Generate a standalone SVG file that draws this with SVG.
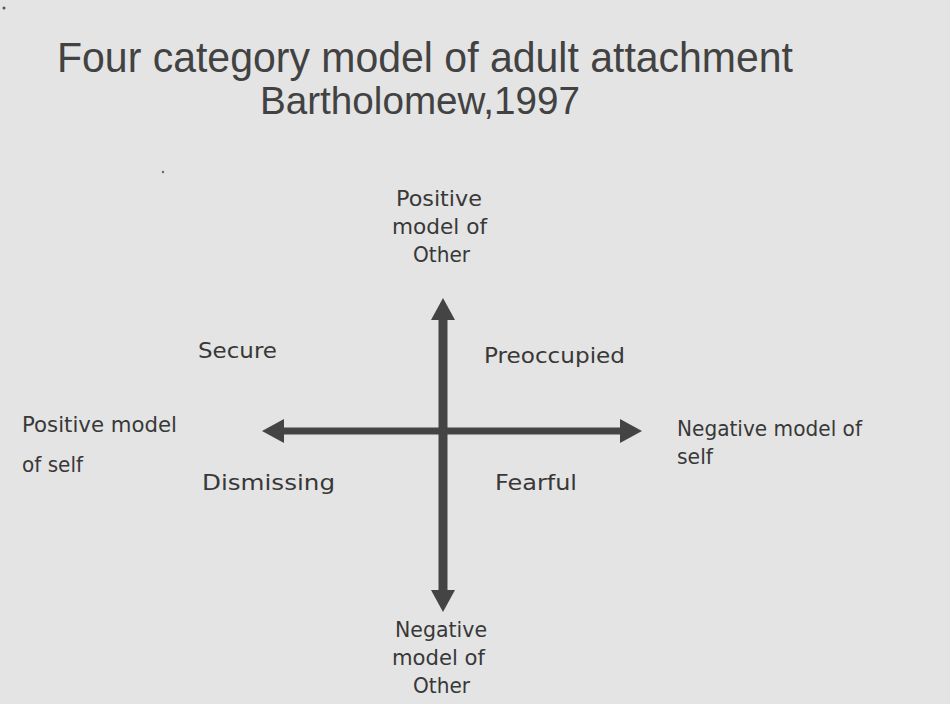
<svg xmlns="http://www.w3.org/2000/svg" width="950" height="704" viewBox="0 0 950 704">
  <style>
    .title { font-family: "Liberation Sans", Arial, sans-serif; fill: #424242; }
    .lbl { font-family: "DejaVu Sans", "Liberation Sans", sans-serif; font-size: 21px; fill: #383838; }
    .axis { stroke: #444444; fill: none; }
  </style>
  <defs>
    <marker id="head" viewBox="0 0 22 24" refX="0" refY="12" markerWidth="22" markerHeight="24" markerUnits="userSpaceOnUse" orient="auto-start-reverse">
      <path d="M0,0 L22,12 L0,24 z" fill="#444444"/>
    </marker>
  </defs>
  <rect x="0" y="0" width="950" height="704" fill="#e4e4e4"/>
  <circle cx="4" cy="8" r="1.5" fill="#555"/>
  <circle cx="163" cy="172" r="1.2" fill="#666"/>

  <g id="title">
    <text class="title" x="57" y="72" font-size="43" textLength="736" lengthAdjust="spacingAndGlyphs">Four category model of adult attachment</text>
    <text class="title" x="260" y="114" font-size="38" textLength="320" lengthAdjust="spacingAndGlyphs">Bartholomew,1997</text>
  </g>

  <g id="connectors">
    <line class="axis" x1="443" y1="320" x2="443" y2="590" stroke-width="9" marker-start="url(#head)" marker-end="url(#head)"/>
    <line class="axis" x1="284" y1="431" x2="620" y2="431" stroke-width="7" marker-start="url(#head)" marker-end="url(#head)"/>
  </g>

  <g id="positive-other">
    <text class="lbl" x="396" y="206" textLength="86" lengthAdjust="spacingAndGlyphs">Positive</text>
    <text class="lbl" x="392" y="234" textLength="95" lengthAdjust="spacingAndGlyphs">model of</text>
    <text class="lbl" x="413" y="262" textLength="57" lengthAdjust="spacingAndGlyphs">Other</text>
  </g>
  <g id="negative-other">
    <text class="lbl" x="395" y="637" textLength="92" lengthAdjust="spacingAndGlyphs">Negative</text>
    <text class="lbl" x="392" y="665" textLength="93" lengthAdjust="spacingAndGlyphs">model of</text>
    <text class="lbl" x="413" y="693" textLength="57" lengthAdjust="spacingAndGlyphs">Other</text>
  </g>
  <g id="positive-self">
    <text class="lbl" x="22" y="432" textLength="155" lengthAdjust="spacingAndGlyphs">Positive model</text>
    <text class="lbl" x="22" y="472" textLength="61" lengthAdjust="spacingAndGlyphs">of self</text>
  </g>
  <g id="negative-self">
    <text class="lbl" x="677" y="436" textLength="185" lengthAdjust="spacingAndGlyphs">Negative model of</text>
    <text class="lbl" x="677" y="464" textLength="36" lengthAdjust="spacingAndGlyphs">self</text>
  </g>
  <g id="secure">
    <text class="lbl" x="198" y="358" textLength="79" lengthAdjust="spacingAndGlyphs">Secure</text>
  </g>
  <g id="preoccupied">
    <text class="lbl" x="484" y="363" textLength="141" lengthAdjust="spacingAndGlyphs">Preoccupied</text>
  </g>
  <g id="dismissing">
    <text class="lbl" x="202" y="490" textLength="133" lengthAdjust="spacingAndGlyphs">Dismissing</text>
  </g>
  <g id="fearful">
    <text class="lbl" x="495" y="490" textLength="82" lengthAdjust="spacingAndGlyphs">Fearful</text>
  </g>
</svg>
